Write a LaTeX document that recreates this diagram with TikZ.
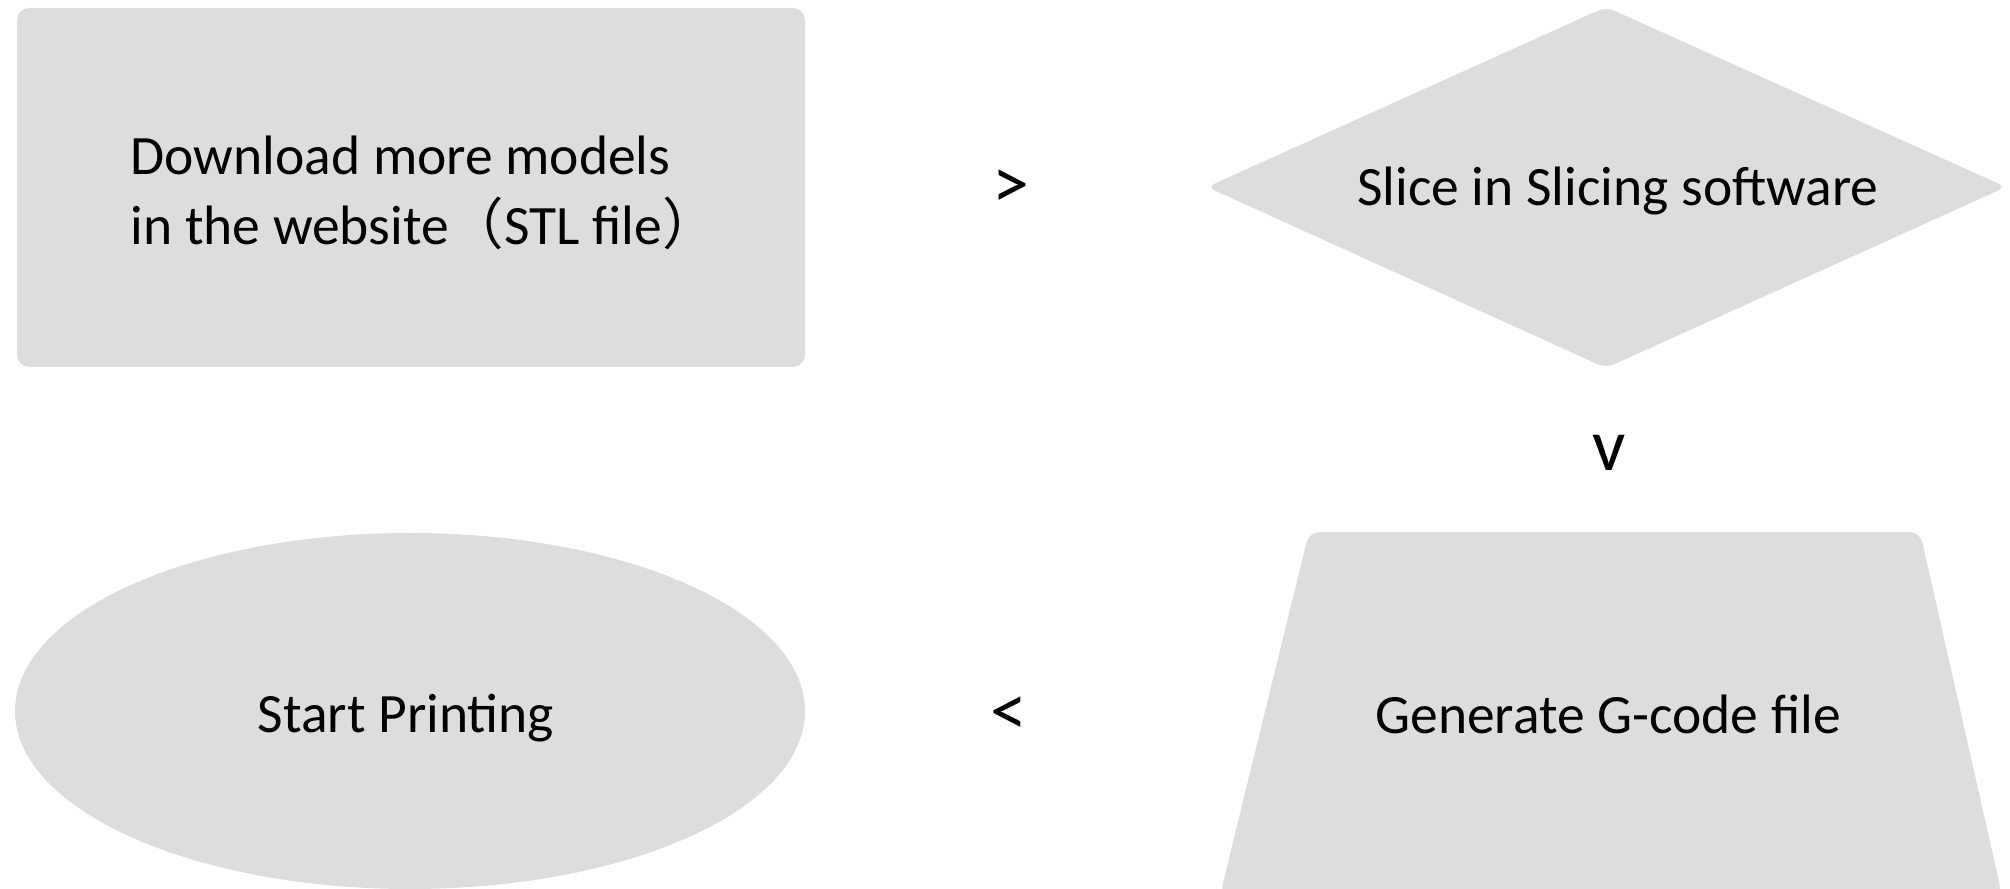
\documentclass[tikz,border=0pt]{standalone}
\usepackage{fontspec}
\setmainfont{Carlito}
\newfontfamily\cjk{Noto Sans CJK SC}
\definecolor{shapefill}{RGB}{221,221,221}
\begin{document}
\begin{tikzpicture}[x=0.1mm,y=-0.1mm,
  shapebox/.style={fill=shapefill},
  txt/.style={font=\fontsize{15.8pt}{19.9pt}\selectfont, inner sep=0pt, text=black},
  glyph/.style={font=\fontsize{21pt}{24pt}\selectfont, inner sep=0pt, text=black}]
\useasboundingbox (0,0) rectangle (2010,889);
% shapes
\fill[shapebox, rounded corners=3.5pt] (17,8) rectangle (805,367);
\fill[shapebox, rounded corners=2.5pt] (1207,187) -- (1606,7) -- (2006,187) -- (1606,368) -- cycle;
\fill[shapebox, rounded corners=3pt] (1220,895) -- (1309,532) -- (1920,532) -- (2002,895) -- cycle;
\fill[shapebox] (410,711) ellipse [x radius=395, y radius=178];
% texts
\node[txt, anchor=west, align=left] (download) at (130,193) {Download more models\\in the website{\cjk （}STL file{\cjk ）}};
\node[txt] (slice) at (1618,191) {Slice in Slicing software};
\node[txt] (gcode) at (1608,714) {Generate G-code file};
\node[txt] (printing) at (406,718) {Start Printing};
% arrow glyphs
\node[glyph] (arrowA) at (1011,189) {>};
\node[glyph] (arrowB) at (1609,453) {v};
\node[glyph] (arrowC) at (1009,716) {<};
\end{tikzpicture}
\end{document}
